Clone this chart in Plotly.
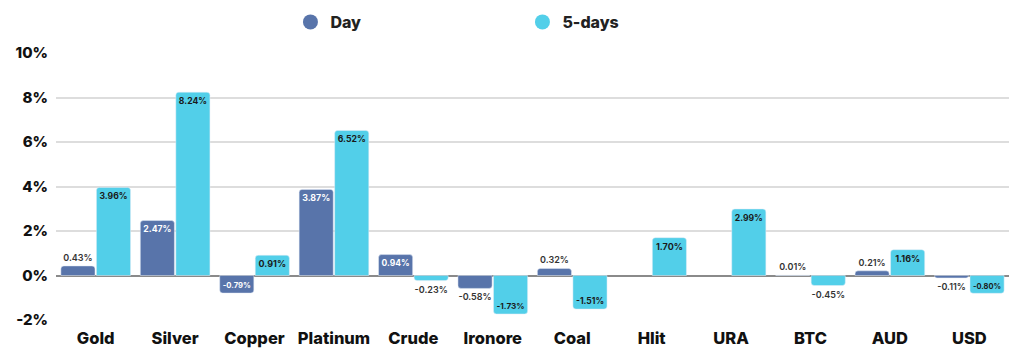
import plotly.graph_objects as go

categories = ["Gold", "Silver", "Copper", "Platinum", "Crude", "Ironore", "Coal", "Hlit", "URA", "BTC", "AUD", "USD"]
day = [0.43, 2.47, -0.79, 3.87, 0.94, -0.58, 0.32, None, None, 0.01, 0.21, -0.11]
five_days = [3.96, 8.24, 0.91, 6.52, -0.23, -1.73, -1.51, 1.70, 2.99, -0.45, 1.16, -0.80]
y_ticks = [-2, 0, 2, 4, 6, 8, 10]

DAY_C = "#5874aa"
FIVE_C = "#52cfe9"
FONT = "Inter"

def labels(vals):
    return [None if v is None else f"{v:.2f}%" for v in vals]

def positions(vals):
    return ["inside" if (v is not None and abs(v) > 0.7) else "outside" for v in vals]

fig = go.Figure()
fig.add_trace(go.Bar(
    x=categories, y=day, name="Day", marker_color=DAY_C,
    text=labels(day), textposition=positions(day), insidetextanchor="end", textangle=0,
    insidetextfont=dict(color="white", size=9, family=FONT, weight=700),
    outsidetextfont=dict(color="#333", size=9, family=FONT, weight=600),
    cliponaxis=False, showlegend=False, hoverinfo="skip"))
fig.add_trace(go.Bar(
    x=categories, y=five_days, name="5-days", marker_color=FIVE_C,
    text=labels(five_days), textposition=positions(five_days), insidetextanchor="end", textangle=0,
    insidetextfont=dict(color="#1a1a1a", size=9, family=FONT, weight=700),
    outsidetextfont=dict(color="#333", size=9, family=FONT, weight=600),
    cliponaxis=False, showlegend=False, hoverinfo="skip"))
# legend entries with circular symbols
for nm, c in [("Day", DAY_C), ("5-days", FIVE_C)]:
    fig.add_trace(go.Scatter(x=[None], y=[None], mode="markers", name=nm,
                             marker=dict(symbol="circle", size=15, color=c)))

fig.update_layout(
    width=1024, height=362,
    margin=dict(l=48, r=23, t=45, b=50, autoexpand=False),
    paper_bgcolor="white", plot_bgcolor="white",
    barmode="group", bargap=0.105, bargroupgap=0.04, barcornerradius=3,
    font=dict(family=FONT, color="#111"),
    legend=dict(orientation="h", x=0.246, xanchor="left", y=1.116, yanchor="middle",
                font=dict(size=16, family=FONT, weight=800, color="#222"),
                entrywidth=187, entrywidthmode="pixels", itemsizing="trace"),
    xaxis=dict(showgrid=False, showline=False, ticks="", tickfont=dict(size=16.5, family=FONT, weight=800, color="#111"),
               ticklabelstandoff=6, fixedrange=True),
    yaxis=dict(range=[-2, 10], tickvals=y_ticks, ticktext=[f"{t}%" for t in y_ticks],
               showgrid=True, gridcolor="#dddddd", gridwidth=1.5,
               zeroline=True, zerolinecolor="#8a8a8a", zerolinewidth=1.5,
               tickfont=dict(size=15, family=FONT, weight=800, color="#111"),
               ticklabelstandoff=7, fixedrange=True),
)

fig.write_html("out.html")
